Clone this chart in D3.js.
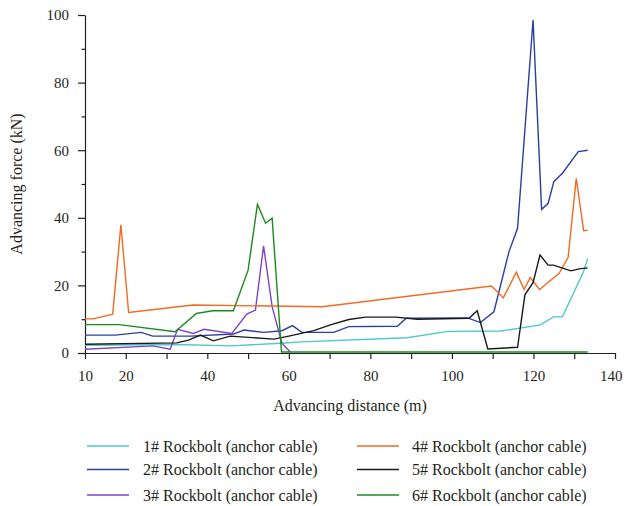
<!DOCTYPE html>
<html>
<head>
<meta charset="utf-8">
<script src="https://cdn.jsdelivr.net/npm/d3@7"></script>
<style>
  html,body{margin:0;padding:0;background:#fff}
  svg{display:block}
  text{font-family:'Liberation Serif','Times New Roman',serif;fill:#231f20}
</style>
</head>
<body>
<svg id="chart" width="625" height="506"></svg>
<script>
// advancing distance (m), advancing force (kN) pairs, one array per rockbolt
const bolt1 = [[10,2.3],[32,2.5],[46,2.1],[58,2.9],[63,3.3],[89,4.5],[99,6.4],[112,6.5],[121.7,8.3],[124.9,10.7],[127.1,10.7],[132.3,24.1],[133.3,28]];
const bolt2 = [[10,5.3],[17.4,5.3],[23.8,6.1],[26.6,5.0],[36,5.0],[46.4,5.6],[49,6.8],[53.8,6.1],[58.3,6.6],[60.9,8.1],[63.2,6.1],[71,6.1],[74.7,7.8],[86.6,7.9],[88.8,10.3],[103.8,10.4],[107,9.0],[110.3,12.2],[114,30],[116.1,36.9],[119.9,98.5],[122,42.5],[123.6,44.3],[125,50.7],[127.1,53.2],[131,59.6],[133.3,60]];
const bolt3 = [[10,1.1],[26.6,2.1],[30.9,1.1],[32.7,7.0],[36.6,5.8],[39.2,7.0],[46,5.8],[49.7,11.5],[51.8,12.7],[53.8,31.7],[55.9,13.7],[58.3,2.9],[60.4,0.2]];
const bolt4 = [[10,10.1],[12,10.1],[16.8,11.5],[18.8,37.9],[20.7,12],[36.5,14.2],[68.2,13.7],[109.7,19.8],[112.6,16.3],[115.8,23.9],[117.7,18.8],[119.2,22.3],[121.5,18.8],[126.3,23.6],[128.5,28.3],[130.5,51.7],[132.3,36.2],[133.3,36.3]];
const bolt5 = [[10,2.6],[32.5,3.0],[35.4,3.8],[38.3,5.3],[41.5,3.6],[45.6,5.0],[56.3,4.1],[60,5.0],[66.1,6.6],[70.2,8.3],[74.7,9.9],[78.8,10.6],[86.2,10.6],[91.5,10.0],[104.2,10.3],[106.2,12.5],[108.8,1.2],[116.1,1.7],[117.9,17.2],[119.9,20.8],[121.6,29],[123.6,26],[124.9,26],[129.2,24.3],[131.2,24.9],[133.3,25.2]];
const bolt6 = [[10,8.4],[18.4,8.4],[32.1,6.3],[37.3,11.7],[41.3,12.5],[46.4,12.5],[50,24.5],[52.3,44],[54.3,38.4],[55.9,39.9],[58.2,0.3],[133.3,0.3]];

const seriesNames = ['1# Rockbolt (anchor cable)','2# Rockbolt (anchor cable)','3# Rockbolt (anchor cable)',
  '4# Rockbolt (anchor cable)','5# Rockbolt (anchor cable)','6# Rockbolt (anchor cable)'];
const seriesColors = ['#4ec8c8','#2b3f9f','#7d45c6','#f26a22','#1a1a1a','#1e8a1e'];
const seriesData = [bolt1, bolt2, bolt3, bolt4, bolt5, bolt6];

const xTicks = [10,20,30,40,50,60,70,80,90,100,110,120,130,140];
const xLabels = [10,20,40,60,80,100,120,140];
const yTicks = [0,10,20,30,40,50,60,70,80,90,100];
const yLabels = [0,20,40,60,80,100];

const svg = d3.select('#chart');
const x = d3.scaleLinear().domain([10, 140]).range([85, 615]);
const y = d3.scaleLinear().domain([0, 100]).range([353, 15]);

/* ── axes ── */
const xAxis = svg.append('g').attr('transform', `translate(0,${y(0)})`)
  .call(d3.axisBottom(x).tickValues(xTicks).tickSize(6).tickSizeOuter(0)
    .tickFormat(d => xLabels.includes(d) ? d : ''));
const yAxis = svg.append('g').attr('transform', `translate(${x(10)},0)`)
  .call(d3.axisLeft(y).tickValues(yTicks).tickSizeOuter(0)
    .tickFormat(d => yLabels.includes(d) ? d : ''));
yAxis.selectAll('.tick line').attr('x2', d => yLabels.includes(d) ? -7 : -3.5);
[xAxis, yAxis].forEach(a => {
  a.select('.domain').attr('stroke', '#231f20').attr('stroke-width', 1.2);
  a.selectAll('.tick line').attr('stroke', '#231f20').attr('stroke-width', 1.2);
  a.selectAll('.tick text').style('font-size', '15px').style('font-family', "'Liberation Serif',serif").attr('fill', '#231f20');
});
xAxis.selectAll('.tick text').attr('y', 17);
// last label sits flush with the right edge, like the original
xAxis.selectAll('.tick text').filter(d => d === 140).attr('text-anchor', 'end').attr('x', 7);
yAxis.selectAll('.tick text').attr('x', -16);

svg.append('text').attr('transform', `translate(22,${y(50)}) rotate(-90)`)
  .attr('text-anchor', 'middle').style('font-size', '16px').text('Advancing force (kN)');
svg.append('text').attr('x', (x(10) + x(140)) / 2).attr('y', 411)
  .attr('text-anchor', 'middle').style('font-size', '16px').text('Advancing distance (m)');

/* ── lines ── */
const line = d3.line().x(d => x(d[0])).y(d => y(d[1]));
seriesData.forEach((s, i) => {
  svg.append('path').datum(s).attr('d', line)
    .attr('fill', 'none').attr('stroke', seriesColors[i])
    .attr('stroke-width', 1.4).attr('stroke-linejoin', 'miter');
});

/* ── legend ── */
const rowY = [446, 469.5, 495];
seriesNames.forEach((name, i) => {
  const col = Math.floor(i / 3), row = i % 3;
  const lx = col ? 357 : 87;
  const g = svg.append('g').attr('transform', `translate(${lx},${rowY[row]})`);
  g.append('line').attr('x1', 0).attr('x2', 42).attr('stroke', seriesColors[i]).attr('stroke-width', 1.3);
  g.append('text').attr('x', col ? 55 : 56).attr('dy', '0.35em')
    .style('font-size', '16px').text(name);
});
</script>
</body>
</html>
